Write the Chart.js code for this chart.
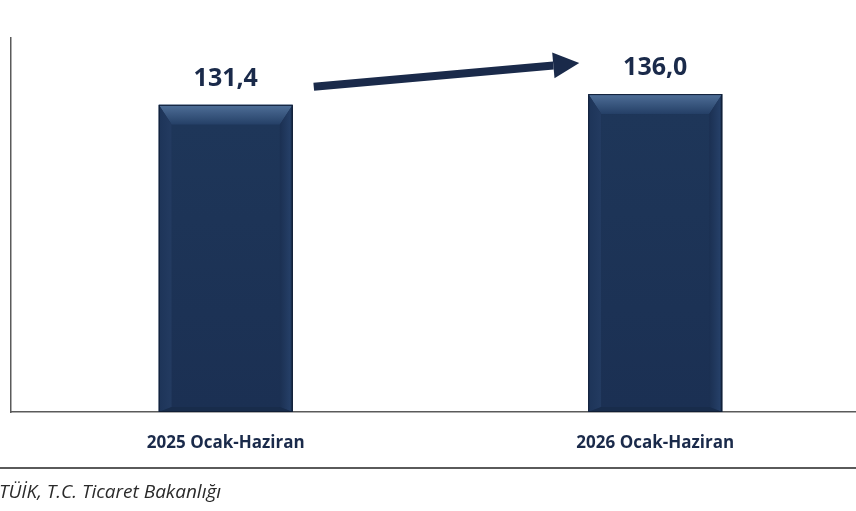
<!DOCTYPE html>
<html lang="tr">
<head>
  <meta charset="UTF-8">
  <script src="https://cdn.jsdelivr.net/npm/chart.js@4/dist/chart.umd.min.js"></script>
  <title>Ocak-Haziran</title>
  <style>
    html, body { margin: 0; padding: 0; background: #fff; overflow: hidden; }
    #wrap { width: 870px; height: 511px; }
  </style>
</head>
<body>
  <div id="wrap"><canvas id="myChart" width="870" height="511"></canvas></div>
  <script>
    const categories = ['2025 Ocak-Haziran', '2026 Ocak-Haziran'];
    const values = [131.4, 136.0];
    const valueLabels = ['131,4', '136,0'];
    const sourceText = 'TÜİK, T.C. Ticaret Bakanlığı';

    const navy = '#1b3052';
    const textNavy = '#1a2a4a';

    // bevelled look of the bars + value labels + arrow + footer
    const decor = {
      id: 'decor',
      afterDatasetsDraw(chart) {
        const ctx = chart.ctx;
        const bars = chart.getDatasetMeta(0).data;
        bars.forEach((b, i) => {
          const l = b.x - b.width / 2, r = b.x + b.width / 2, t = b.y, btm = b.base;
          const s = 13, tt = 20, bb = 5;
          ctx.save();
          // top facet
          let g = ctx.createLinearGradient(0, t, 0, t + tt);
          g.addColorStop(0, '#4f6f98');
          g.addColorStop(1, '#243f66');
          ctx.fillStyle = g;
          ctx.beginPath();
          ctx.moveTo(l, t); ctx.lineTo(r, t); ctx.lineTo(r - s, t + tt); ctx.lineTo(l + s, t + tt); ctx.closePath();
          ctx.fill();
          // left facet
          g = ctx.createLinearGradient(l, 0, l + s, 0);
          g.addColorStop(0, '#1d3458');
          g.addColorStop(1, '#233b61');
          ctx.fillStyle = g;
          ctx.beginPath();
          ctx.moveTo(l, t); ctx.lineTo(l + s, t + tt); ctx.lineTo(l + s, btm - bb); ctx.lineTo(l, btm); ctx.closePath();
          ctx.fill();
          // right facet
          g = ctx.createLinearGradient(r - s, 0, r, 0);
          g.addColorStop(0, '#1b3052');
          g.addColorStop(0.8, '#253f67');
          g.addColorStop(1, '#15263f');
          ctx.fillStyle = g;
          ctx.beginPath();
          ctx.moveTo(r, t); ctx.lineTo(r - s, t + tt); ctx.lineTo(r - s, btm - bb); ctx.lineTo(r, btm); ctx.closePath();
          ctx.fill();
          // bottom facet
          ctx.fillStyle = '#182c4b';
          ctx.beginPath();
          ctx.moveTo(l, btm); ctx.lineTo(l + s, btm - bb); ctx.lineTo(r - s, btm - bb); ctx.lineTo(r, btm); ctx.closePath();
          ctx.fill();
          // face
          g = ctx.createLinearGradient(0, t + tt, 0, btm - bb);
          g.addColorStop(0, '#1e3659');
          g.addColorStop(1, '#1b3053');
          ctx.fillStyle = g;
          ctx.fillRect(l + s, t + tt, r - l - 2 * s, btm - bb - t - tt);
          ctx.strokeStyle = '#0f1d35';
          ctx.lineWidth = 1;
          ctx.strokeRect(l + 0.5, t + 0.5, r - l - 1, btm - t - 1);
          // value label
          ctx.fillStyle = textNavy;
          ctx.font = 'bold 25px "Open Sans", sans-serif';
          ctx.textAlign = 'center';
          ctx.textBaseline = 'middle';
          ctx.fillText(valueLabels[i], b.x, t - 26);
          ctx.restore();
        });

        // arrow between the two labels
        if (bars.length === 2) {
          const a = bars[0], c = bars[1];
          const x0 = a.x + a.width / 2 + 21, y0 = a.y - 18;
          const x1 = c.x - c.width / 2 - 9, y1 = c.y - 31;
          const ang = Math.atan2(y1 - y0, x1 - x0);
          const head = 26, hw = 13;
          const bx = x1 - head * Math.cos(ang), by = y1 - head * Math.sin(ang);
          ctx.save();
          ctx.strokeStyle = '#1a2a4a';
          ctx.fillStyle = '#1a2a4a';
          ctx.lineWidth = 8;
          ctx.beginPath();
          ctx.moveTo(x0, y0); ctx.lineTo(bx, by); ctx.stroke();
          ctx.beginPath();
          ctx.moveTo(x1, y1);
          ctx.lineTo(bx + hw * Math.sin(ang), by - hw * Math.cos(ang));
          ctx.lineTo(bx - hw * Math.sin(ang), by + hw * Math.cos(ang));
          ctx.closePath();
          ctx.fill();
          ctx.restore();
        }
      },
      afterDraw(chart) {
        const ctx = chart.ctx;
        ctx.save();
        ctx.strokeStyle = '#5a5a5a';
        ctx.lineWidth = 2;
        ctx.beginPath();
        ctx.moveTo(0, 468); ctx.lineTo(chart.width, 468);
        ctx.stroke();
        ctx.fillStyle = '#2a2a2a';
        ctx.font = 'italic 19px "Open Sans", sans-serif';
        ctx.textAlign = 'left';
        ctx.textBaseline = 'middle';
        ctx.fillText(sourceText, -1, 493);
        ctx.restore();
      }
    };

    new Chart('myChart', {
      type: 'bar',
      data: {
        labels: categories,
        datasets: [{
          data: values,
          backgroundColor: navy,
          borderWidth: 0,
          categoryPercentage: 1,
          barPercentage: 0.312
        }]
      },
      options: {
        responsive: false,
        animation: false,
        events: [],
        layout: { padding: { top: 38, left: 0, right: 0, bottom: 0 } },
        plugins: { legend: { display: false }, tooltip: { enabled: false } },
        scales: {
          x: {
            grid: { display: false },
            border: { display: true, color: '#5a5a5a', width: 1.5 },
            ticks: {
              color: textNavy,
              font: { family: '"Open Sans", sans-serif', size: 17, weight: 'bold' },
              padding: 13,
              maxRotation: 0
            },
            afterFit(s) { s.height = 99; }
          },
          y: {
            min: 0,
            max: 160,
            grid: { display: false },
            border: { display: true, color: '#5a5a5a', width: 1.5 },
            ticks: { display: false },
            afterFit(s) { s.width = 11; }
          }
        }
      },
      plugins: [decor]
    });
  </script>
</body>
</html>
